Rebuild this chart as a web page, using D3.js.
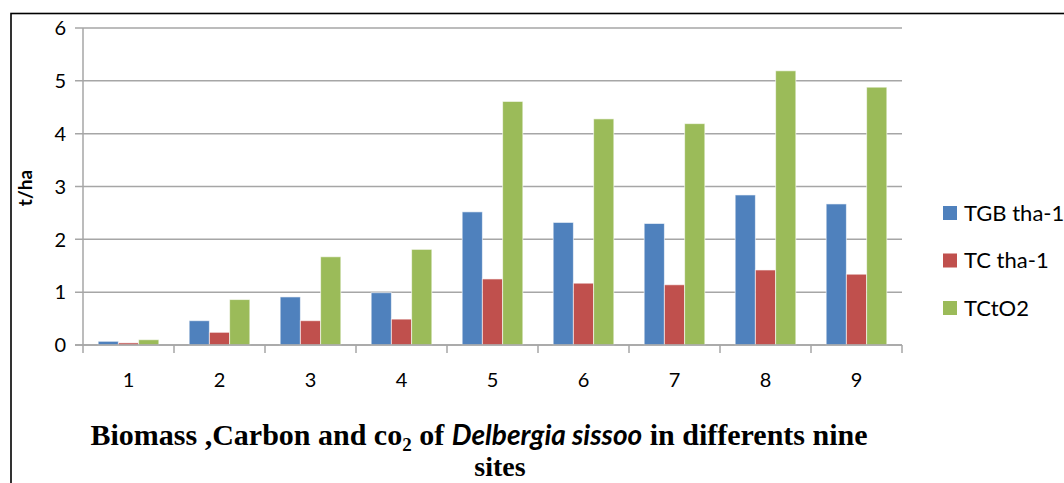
<!DOCTYPE html>
<html><head><meta charset="utf-8">
<script src="https://cdn.jsdelivr.net/npm/d3@7"></script>
<style>body{margin:0;background:#fff}svg{display:block}</style>
</head><body>
<svg id="c" width="1064" height="483"></svg>
<script>
const categories = ["1","2","3","4","5","6","7","8","9"];
const seriesNames = ["TGB tha-1","TC tha-1","TCtO2"];
const tgb = [0.07,0.46,0.91,0.99,2.52,2.32,2.30,2.84,2.67];
const tc  = [0.04,0.24,0.46,0.49,1.25,1.17,1.14,1.42,1.34];
const tco2= [0.10,0.86,1.67,1.81,4.61,4.28,4.19,5.19,4.88];
const yTicks = [0,1,2,3,4,5,6];
const colors = ["#4F81BD","#C0504D","#9BBB59"];

const series = [tgb, tc, tco2];
const svg = d3.select("#c");
const font = "Lato, 'Open Sans', sans-serif";

// outer frame
svg.append("rect").attr("x",11).attr("y",13.5).attr("width",1100).attr("height",500)
  .attr("fill","none").attr("stroke","#000").attr("stroke-width",1.6);

const L=83, R=902, T=28, B=345;
const x = d3.scaleBand().domain(categories).range([L,R]).paddingInner(0).paddingOuter(0);
const y = d3.scaleLinear().domain([0,6]).range([B,T]);

// gridlines
svg.append("g").selectAll("line").data(yTicks).join("line")
  .attr("x1",L-8).attr("x2",R).attr("y1",d=>y(d)).attr("y2",d=>y(d))
  .attr("stroke","#a6a6a6").attr("stroke-width",1.5);

// y axis
svg.append("line").attr("x1",L).attr("x2",L).attr("y1",T).attr("y2",B)
  .attr("stroke","#a6a6a6").attr("stroke-width",1.5);
svg.append("g").selectAll("text").data(yTicks).join("text")
  .attr("x",L-17).attr("y",d=>y(d)).attr("dy","0.36em").attr("text-anchor","end")
  .attr("font-family",font).attr("font-size",20).attr("fill","#000").text(d=>d);

// x axis ticks
const bounds = categories.map(c=>x(c)).concat([R]);
svg.append("g").selectAll("line").data(bounds).join("line")
  .attr("x1",d=>d).attr("x2",d=>d).attr("y1",B).attr("y2",B+8)
  .attr("stroke","#a6a6a6").attr("stroke-width",1.5);
svg.append("g").selectAll("text").data(categories).join("text")
  .attr("x",d=>x(d)+x.bandwidth()/2).attr("y",387).attr("text-anchor","middle")
  .attr("font-family",font).attr("font-size",20).attr("fill","#000").text(d=>d);

// bars
const bw = x.bandwidth()/(3+1.5);
const xs = d3.scaleBand().domain(seriesNames).range([0,3*bw]);
seriesNames.forEach((s,si)=>{
  svg.append("g").selectAll("rect").data(categories).join("rect")
    .attr("x",(c)=>x(c)+x.bandwidth()/2-1.5*bw+xs(s))
    .attr("width",xs.bandwidth())
    .attr("y",(c,i)=>y(series[si][i]))
    .attr("height",(c,i)=>B-y(series[si][i]))
    .attr("fill",colors[si]).attr("stroke","rgba(255,255,255,0.6)").attr("stroke-width",1);
});
svg.append("line").attr("x1",L-8).attr("x2",R).attr("y1",B).attr("y2",B)
  .attr("stroke","#a6a6a6").attr("stroke-width",1.5);

// y title
svg.append("text").attr("transform","translate(32,188) rotate(-90)")
  .attr("text-anchor","middle").attr("font-family",font).attr("font-weight","bold")
  .attr("font-size",19).text("t/ha");

// legend
const lg = svg.append("g").selectAll("g").data(seriesNames).join("g")
  .attr("transform",(d,i)=>`translate(943,${213+i*47.5})`);
lg.append("rect").attr("x",0).attr("y",-7).attr("width",14).attr("height",14)
  .attr("fill",(d,i)=>colors[i]);
lg.append("text").attr("x",21).attr("y",0).attr("dy","0.36em")
  .attr("font-family",font).attr("font-size",22).text(d=>d);

// title
const serif = "'Liberation Serif','Times New Roman',serif";
const t1 = svg.append("text").attr("x",479).attr("y",445).attr("text-anchor","middle")
  .attr("font-family",serif).attr("font-weight","bold").attr("font-size",30);
t1.append("tspan").text("Biomass ,Carbon and co");
t1.append("tspan").attr("font-size",19).attr("dy",6).text("2");
t1.append("tspan").attr("dy",-6).text(" of ");
t1.append("tspan").attr("font-family",font).attr("font-style","italic").attr("font-size",28).text("Delbergia sissoo");
t1.append("tspan").text(" in  differents nine");
svg.append("text").attr("x",500).attr("y",476).attr("text-anchor","middle")
  .attr("font-family",serif).attr("font-weight","bold").attr("font-size",28).text("sites");
</script>
</body></html>
